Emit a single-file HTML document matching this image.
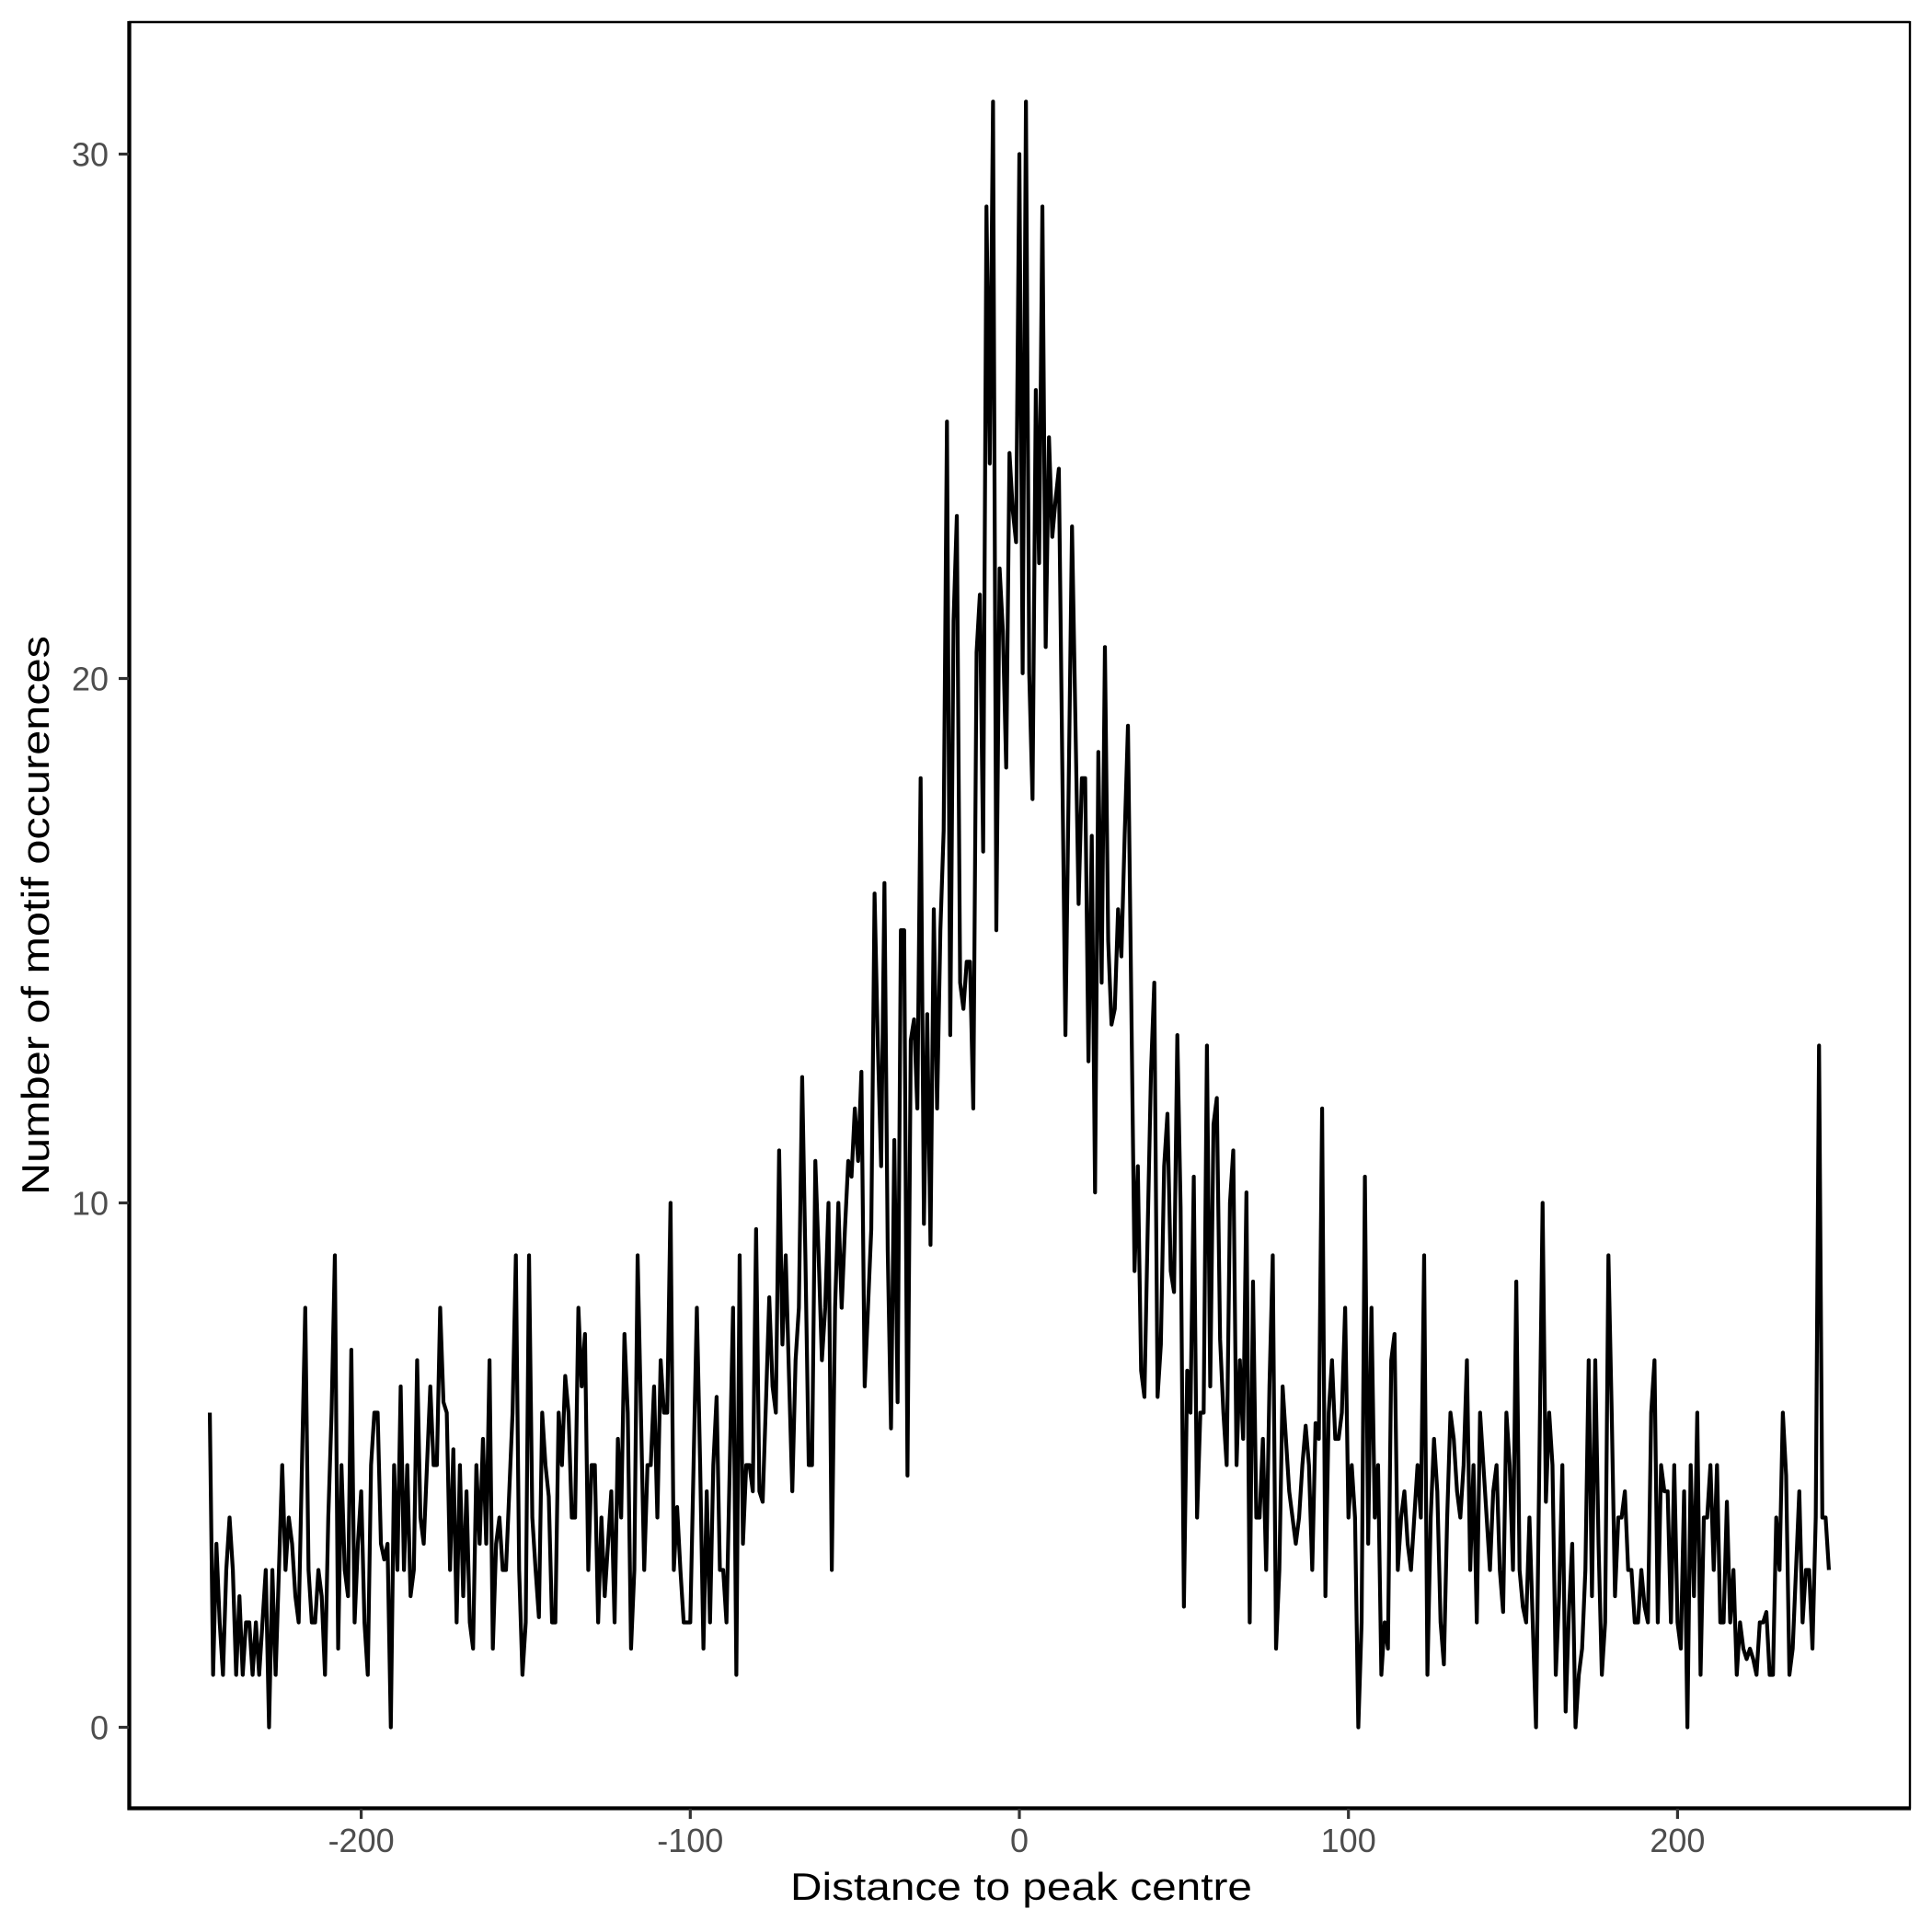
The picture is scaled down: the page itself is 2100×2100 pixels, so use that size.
<!DOCTYPE html>
<html>
<head>
<meta charset="utf-8">
<style>
html,body{margin:0;padding:0;background:#ffffff;}
svg{display:block;}
</style>
</head>
<body>
<svg width="2100" height="2100" viewBox="0 0 2100 2100" xmlns="http://www.w3.org/2000/svg">
<rect x="0" y="0" width="2100" height="2100" fill="#ffffff"/>

<!-- data line -->
<g transform="matrix(3.577 0 0 -57 1108 1877.5)">
<polyline fill="none" stroke="#000000" stroke-width="4.2" stroke-linejoin="round" stroke-linecap="butt" vector-effect="non-scaling-stroke" points="
-246,6 -245,1 -244,3.5 -243,2 -242,1 -241,3 -240,4 -239,3 -238,1 -237,2.5 -236,1 -235,2 -234,2 -233,1 -232,2 -231,1 -230,2 -229,3 -228,0 -227,3 -226,1 -225,3 -224,5 -223,3 -222,4 -221,3.5 -220,2.5 -219,2 -218,5 -217,8 -216,3 -215,2 -214,2 -213,3 -212,2.5 -211,1 -210,4 -209,6 -208,9 -207,1.5 -206,5 -205,3 -204,2.5 -203,7.2 -202,2 -201,3.5 -200,4.5 -199,2 -198,1 -197,5 -196,6 -195,6 -194,3.5 -193,3.2 -192,3.5 -191,0
-190,5 -189,3 -188,6.5 -187,3 -186,5 -185,2.5 -184,3 -183,7 -182,4 -181,3.5 -180,5 -179,6.5 -178,5 -177,5 -176,8 -175,6.2 -174,6 -173,3 -172,5.3 -171,2 -170,5 -169,2.5 -168,4.5 -167,2 -166,1.5 -165,5 -164,3.5 -163,5.5 -162,3.5 -161,7 -160,1.5 -159,3.5 -158,4 -157,3 -156,3 -155,4.5 -154,6 -153,9 -152,3 -151,1 -150,2 -149,9 -148,4 -147,3 -146,2.1 -145,6 -144,5 -143,4.4 -142,2 -141,2 -140,6
-139,5 -138,6.7 -137,6 -136,4 -135,4 -134,8 -133,6.5 -132,7.5 -131,3 -130,5 -129,5 -128,2 -127,4 -126,2.5 -125,3.5 -124,4.5 -123,2 -122,5.5 -121,4 -120,7.5 -119,6 -118,1.5 -117,3 -116,9 -115,6 -114,3 -113,5 -112,5 -111,6.5 -110,4 -109,7 -108,6 -107,6 -106,10 -105,3 -104,4.2 -103,3 -102,2 -101,2 -100,2 -99,5 -98,8 -97,5 -96,1.5 -95,4.5 -94,2 -93,5 -92,6.3 -91,3 -90,3 -89,2 -88,5 -87,8 -86,1 -85,9 -84,3.5 -83,5 -82,5 -81,4.5 -80,9.5 -79,4.5 -78,4.3 -77,6.2 -76,8.2 -75,6.5 -74,6 -73,11 -72,7.3 -71,9 -70,6.7 -69,4.5 -68,7 -67,8 -66,12.4 -65,8.9 -64,5 -63,5 -62,10.8 -61,9 -60,7 -59,8 -58,10 -57,3 -56,8 -55,10 -54,8 -53,9.5 -52,10.8 -51,10.5 -50,11.8 -49,10.8 -48,12.5 -47,6.5 -46,8 -45,9.5
-44,15.9 -43,13 -42,10.7 -41,16.1 -40,9.1 -39,5.7 -38,11.2 -37,6.2 -36,15.2 -35,15.2 -34,4.8 -33,13.1 -32,13.5 -31,11.8 -30,18.1 -29,9.6 -28,13.6 -27,9.2 -26,15.6 -25,11.8 -24,15.2 -23,17.1 -22,24.9 -21,13.2 -20,21.1 -19,23.1 -18,14.2 -17,13.7 -16,14.6 -15,14.6 -14,11.8 -13,20.5 -12,21.6 -11,16.7 -10,29 -9,24.1 -8,31 -7,15.2 -6,22.1 -5,20.9 -4,18.3 -3,24.3 -2,23.2 -1,22.6 0,30 1,20.1 2,31 3,20.1 4,17.7 5,25.5
6,22.2 7,29 8,20.6 9,24.6 10,22.7 11,23.4 12,24 13,18.6 14,13.2 15,18 16,22.9 17,19.3 18,15.7 19,18.1 20,18.1 21,12.7 22,17 23,10.2 24,18.6 25,14.2 26,20.6 27,15 28,13.4 29,13.7 30,15.6 31,14.7 32,17 33,19.1 34,13.9 35,8.7 36,10.7 37,6.8 38,6.3 39,9.5 40,12.5 41,14.2 42,6.3 43,7.3 44,10.7 45,11.7 46,8.7 47,8.3 48,13.2 49,9.9 50,2.3 51,6.8
52,6 53,10.5 54,4 55,6 56,6 57,13 58,6.5 59,11.5 60,12 61,7.4 62,6 63,5 64,10 65,11 66,5 67,7 68,5.5 69,10.2 70,2 71,8.5 72,4 73,4 74,5.5 75,3 76,6.5 77,9 78,1.5 79,3 80,6.5 81,5.5 82,4.5 83,4 84,3.5 85,4 86,5 87,5.75 88,5 89,3 90,5.8 91,5.5 92,11.8 93,2.5 94,6 95,7 96,5.5 97,5.5 98,6 99,8 100,4 101,5 102,4 103,0 104,2 105,10.5 106,3.5 107,8 108,4 109,5 110,1 111,2 112,1.5 113,7 114,7.5 115,3 116,4 117,4.5 118,3.5 119,3 120,4 121,5 122,4 123,9 124,1 125,4 126,5.5 127,4.5 128,2 129,1.2 130,4 131,6 132,5.5 133,4.5 134,4 135,5 136,7 137,3 138,5 139,2 140,6 141,5 142,4 143,3 144,4.5 145,5 146,3 147,2.2 148,6 149,5 150,3 151,8.5
152,3 153,2.3 154,2 155,4 156,2 157,0 158,5 159,10 160,4.3 161,6 162,5 163,1 164,2.5 165,5 166,0.3 167,2.2 168,3.5 169,0 170,1 171,1.5 172,3 173,7 174,2.5 175,7 176,3.5 177,1 178,2 179,9 180,6 181,2.5 182,4 183,4 184,4.5 185,3 186,3 187,2 188,2 189,3 190,2.3 191,2 192,6 193,7 194,2 195,5 196,4.5 197,4.5 198,2 199,5 200,2 201,1.5 202,4.5 203,0 204,5 205,2.5 206,6 207,1 208,4 209,4 210,5 211,3 212,5 213,2 214,2 215,4.3 216,2 217,3 218,1 219,2 220,1.5 221,1.3 222,1.5 223,1.3 224,1 225,2 226,2 227,2.2 228,1 229,1 230,4 231,3 232,6 233,4.8 234,1 235,1.5 236,3 237,4.5 238,2 239,3 240,3 241,1.5 242,4 243,13 244,4 245,4 246,3
"/>
</g>

<!-- panel border (top/right thin) -->
<line x1="140" y1="24" x2="2076" y2="24" stroke="#000" stroke-width="2.4"/>
<line x1="2076" y1="23" x2="2076" y2="1966" stroke="#000" stroke-width="2.4"/>
<!-- axis lines -->
<line x1="140.5" y1="23" x2="140.5" y2="1967.5" stroke="#000" stroke-width="4.3"/>
<line x1="138.5" y1="1965.5" x2="2077" y2="1965.5" stroke="#000" stroke-width="4.3"/>

<!-- y ticks -->
<g stroke="#333333" stroke-width="3.2">
<line x1="129" y1="1877.5" x2="140" y2="1877.5"/>
<line x1="129" y1="1307.5" x2="140" y2="1307.5"/>
<line x1="129" y1="737.5" x2="140" y2="737.5"/>
<line x1="129" y1="167.5" x2="140" y2="167.5"/>
</g>
<!-- x ticks -->
<g stroke="#333333" stroke-width="3.2">
<line x1="392.6" y1="1966" x2="392.6" y2="1977"/>
<line x1="750.3" y1="1966" x2="750.3" y2="1977"/>
<line x1="1108" y1="1966" x2="1108" y2="1977"/>
<line x1="1465.7" y1="1966" x2="1465.7" y2="1977"/>
<line x1="1823.4" y1="1966" x2="1823.4" y2="1977"/>
</g>

<!-- y tick labels -->
<g font-family="Liberation Sans, DejaVu Sans, sans-serif" font-size="36" fill="#4D4D4D" text-anchor="end">
<text x="118" y="1890.5">0</text>
<text x="118" y="1320.5">10</text>
<text x="118" y="750.5">20</text>
<text x="118" y="180.5">30</text>
</g>
<!-- x tick labels -->
<g font-family="Liberation Sans, DejaVu Sans, sans-serif" font-size="36" fill="#4D4D4D" text-anchor="middle">
<text x="392.6" y="2013">-200</text>
<text x="750.3" y="2013">-100</text>
<text x="1108" y="2013">0</text>
<text x="1465.7" y="2013">100</text>
<text x="1823.4" y="2013">200</text>
</g>

<!-- axis titles -->
<text x="859" y="2065" font-family="Liberation Sans, DejaVu Sans, sans-serif" font-size="42" fill="#000" textLength="502" lengthAdjust="spacingAndGlyphs">Distance to peak centre</text>
<text transform="translate(53,1299) rotate(-90)" x="0" y="0" font-family="Liberation Sans, DejaVu Sans, sans-serif" font-size="42" fill="#000" textLength="608" lengthAdjust="spacingAndGlyphs">Number of motif occurences</text>
</svg>
</body>
</html>
